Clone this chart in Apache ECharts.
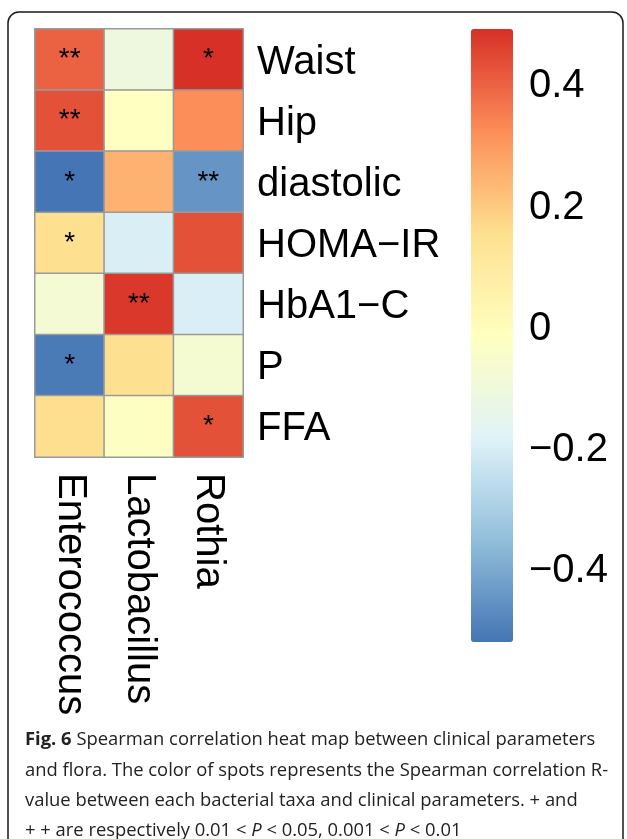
<!DOCTYPE html>
<html>
<head>
<meta charset="utf-8">
<script src="https://cdn.jsdelivr.net/npm/echarts@6/dist/echarts.min.js"></script>
<style>
html,body{margin:0;padding:0;background:#fff;}
#chart{width:627px;height:839px;}
</style>
</head>
<body>
<div id="chart"></div>
<script>
// ---- data ----
const columns = ['Enterococcus', 'Lactobacillus', 'Rothia'];
const rows = ['Waist', 'Hip', 'diastolic', 'HOMA\u2212IR', 'HbA1\u2212C', 'P', 'FFA'];
const enterococcus = [0.40, 0.43, -0.523, 0.15, -0.08, -0.51, 0.155];
const lactobacillus = [-0.11, -0.02, 0.245, -0.20, 0.475, 0.15, -0.025];
const rothia = [0.49, 0.32, -0.45, 0.43, -0.20, -0.07, 0.43];
const sigEnterococcus = ['**', '**', '*', '*', '', '*', ''];
const sigLactobacillus = ['', '', '', '', '**', '', ''];
const sigRothia = ['*', '', '**', '', '', '', '*'];
const colorbarTicks = [-0.4, -0.2, 0, 0.2, 0.4];
const palette = ['#4575B4', '#91BFDB', '#E0F3F8', '#FFFFBF', '#FEE090', '#FC8D59', '#D73027'];
const captionLines = [
  '{b|Fig. 6} Spearman correlation heat map between clinical parameters',
  'and flora. The color of spots represents the Spearman correlation R-',
  'value between each bacterial taxa and clinical parameters. + and',
  '+ + are respectively 0.01 < {i|P} < 0.05, 0.001 < {i|P} < 0.01'
];

// ---- build ----
const valueCols = [enterococcus, lactobacillus, rothia];
const sigCols = [sigEnterococcus, sigLactobacillus, sigRothia];
const heatData = [];
valueCols.forEach((col, ci) => col.forEach((v, ri) => heatData.push([ci, ri, v, sigCols[ci][ri]])));
const allVals = valueCols.flat();
const vMin = Math.min(...allVals);
const vMax = Math.max(...allVals);

const FONT = '"Liberation Sans", Arial, Helvetica, sans-serif';
const CAPFONT = '"Open Sans", "Noto Sans", sans-serif';
const CAPSIZE = 18.4;
const shiftRich = {a: {fontSize: 40, color: '#000', fontFamily: FONT, padding: [6, 0, 0, 0]}};

const chart = echarts.init(document.getElementById('chart'), null, {renderer: 'canvas'});
chart.setOption({
  animation: false,
  backgroundColor: '#fff',
  grid: [
    {left: 35, top: 29, width: 208, height: 428},
    {left: 471, top: 29, width: 42, height: 613}
  ],
  xAxis: [
    {
      type: 'category', gridIndex: 0, data: columns, position: 'bottom',
      axisLine: {show: false}, axisTick: {show: false}, splitLine: {show: false},
      axisLabel: {rotate: -90, margin: 16, fontSize: 40, color: '#000', fontFamily: FONT, interval: 0}
    },
    {type: 'value', gridIndex: 1, show: false, min: 0, max: 1}
  ],
  yAxis: [
    {
      type: 'category', gridIndex: 0, data: rows, inverse: true, position: 'right',
      axisLine: {show: false}, axisTick: {show: false}, splitLine: {show: false},
      axisLabel: {margin: 14, fontSize: 40, color: '#000', fontFamily: FONT, interval: 0,
        formatter: v => '{a|' + v + '}', rich: shiftRich}
    },
    {
      type: 'value', gridIndex: 1, min: vMin, max: vMax, position: 'right',
      axisLine: {show: false}, axisTick: {show: false}, splitLine: {show: false},
      axisLabel: {
        customValues: colorbarTicks, margin: 16, fontSize: 40, color: '#000', fontFamily: FONT,
        rich: shiftRich,
        formatter: v => '{a|' + (Math.round(v * 10) / 10).toString().replace('-', '\u2212') + '}'
      }
    }
  ],
  visualMap: {
    type: 'continuous', min: vMin, max: vMax, seriesIndex: 0, dimension: 2,
    inRange: {color: palette},
    left: 471, top: 29, itemWidth: 42, itemHeight: 613, padding: 0,
    calculable: false, hoverLink: false, text: null, showLabel: false,
    orient: 'vertical'
  },
  series: [{
    type: 'heatmap', xAxisIndex: 0, yAxisIndex: 0,
    data: heatData,
    itemStyle: {borderColor: '#9a9a9a', borderWidth: 1.5},
    label: {
      show: true, fontSize: 28, color: '#000', fontFamily: FONT,
      formatter: p => p.data[3]
    },
    emphasis: {disabled: true}
  }],
  graphic: [
    {
      type: 'rect', silent: true,
      shape: {x: 8, y: 12, width: 615, height: 900, r: 11},
      style: {fill: 'none', stroke: '#1a1a1a', lineWidth: 1.5}
    }
  ].concat(captionLines.map((t, i) => ({
    type: 'text', silent: true, left: 25, top: 731 + i * 30.3,
    style: {
      text: t, fontSize: CAPSIZE, fontFamily: CAPFONT, fill: '#222',
      rich: {
        b: {fontWeight: 'bold', fontSize: CAPSIZE, fontFamily: CAPFONT, fill: '#222'},
        i: {fontStyle: 'italic', fontSize: CAPSIZE, fontFamily: CAPFONT, fill: '#222'}
      }
    }
  })))
});
</script>
</body>
</html>
